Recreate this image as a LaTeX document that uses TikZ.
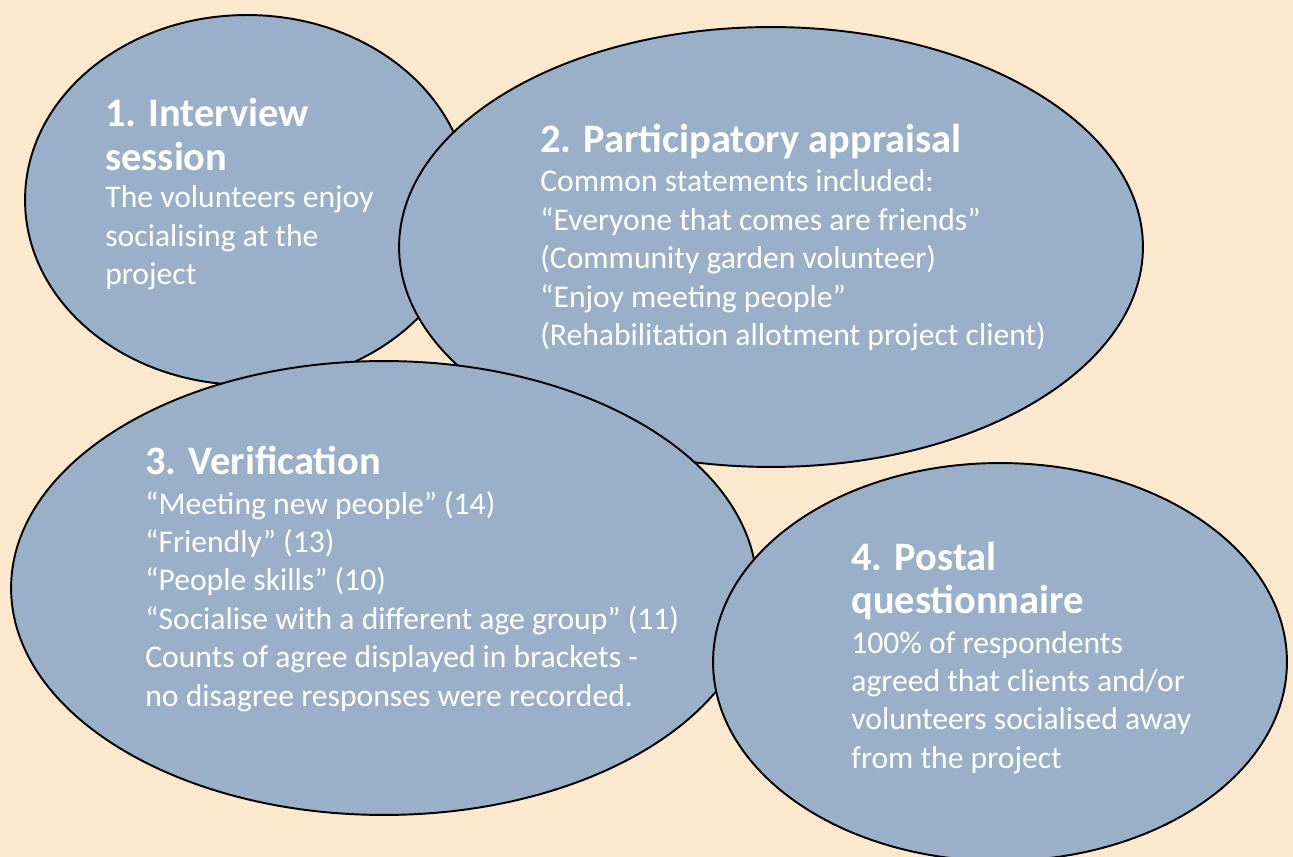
\documentclass[tikz,border=0pt]{standalone}
\usepackage{fontspec}
\setmainfont{Carlito}
\usetikzlibrary{shapes.geometric}

\definecolor{paper}{RGB}{252,232,204}
\definecolor{bubblefill}{RGB}{153,176,200}
\newcommand{\headsize}{\fontsize{23}{25}\selectfont\bfseries}
\newcommand{\bodysize}{\fontsize{18}{21.9}\selectfont}
\newcommand{\bubbletext}[1]{\begin{tabular}[t]{@{}l@{}}#1\end{tabular}}

\begin{document}
\begin{tikzpicture}[x=0.02cm, y=-0.02cm]
    \tikzstyle{bubble}=[ellipse, draw=black, line width=1.1pt, fill=bubblefill, inner sep=0pt]
    \tikzstyle{head}=[anchor=base west, text=white, font=\headsize, inner sep=0pt]
    \tikzstyle{body}=[anchor=base west, text=white, font=\bodysize, inner sep=0pt]

    \useasboundingbox (0,0) rectangle (1293,857);
    \fill[paper] (0,0) rectangle (1293,857);
    \clip (0,0) rectangle (1293,857);

    % the four methods, back to front
    \node[bubble, minimum width=8.88cm,  minimum height=7.4cm]  (interview)    at (247,200) {};
    \node[bubble, minimum width=14.88cm, minimum height=8.8cm]  (appraisal)    at (771,247) {};
    \node[bubble, minimum width=14.92cm, minimum height=9.08cm] (verification) at (384,588) {};
    \node[bubble, minimum width=11.48cm, minimum height=7.96cm] (postal)       at (1000,662) {};

    \node[head] (interview-head) at (105,127) {\bubbletext{1. Interview\\session}};
    \node[body] (interview-text) at (105,208) {\bubbletext{The volunteers enjoy\\socialising at the\\project}};

    \node[head] (appraisal-head) at (540,153) {2. Participatory appraisal};
    \node[body] (appraisal-text) at (540,192) {\bubbletext{Common statements included:\\
                                              “Everyone that comes are friends”\\
                                              (Community garden volunteer)\\
                                              “Enjoy meeting people”\\
                                              (Rehabilitation allotment project client)}};

    \node[head] (verification-head) at (145,475) {3. Verification};
    \node[body] (verification-text) at (145,514) {\bubbletext{“Meeting new people” (14)\\
                                                 “Friendly” (13)\\
                                                 “People skills” (10)\\
                                                 “Socialise with a different age group” (11)\\
                                                 Counts of agree displayed in brackets -\\
                                                 no disagree responses were recorded.}};

    \node[head] (postal-head) at (851,570) {\bubbletext{4. Postal\\questionnaire}};
    \node[body] (postal-text) at (851,653) {\bubbletext{100\% of respondents\\agreed that clients and/or\\volunteers socialised away\\from the project}};
\end{tikzpicture}
\end{document}
